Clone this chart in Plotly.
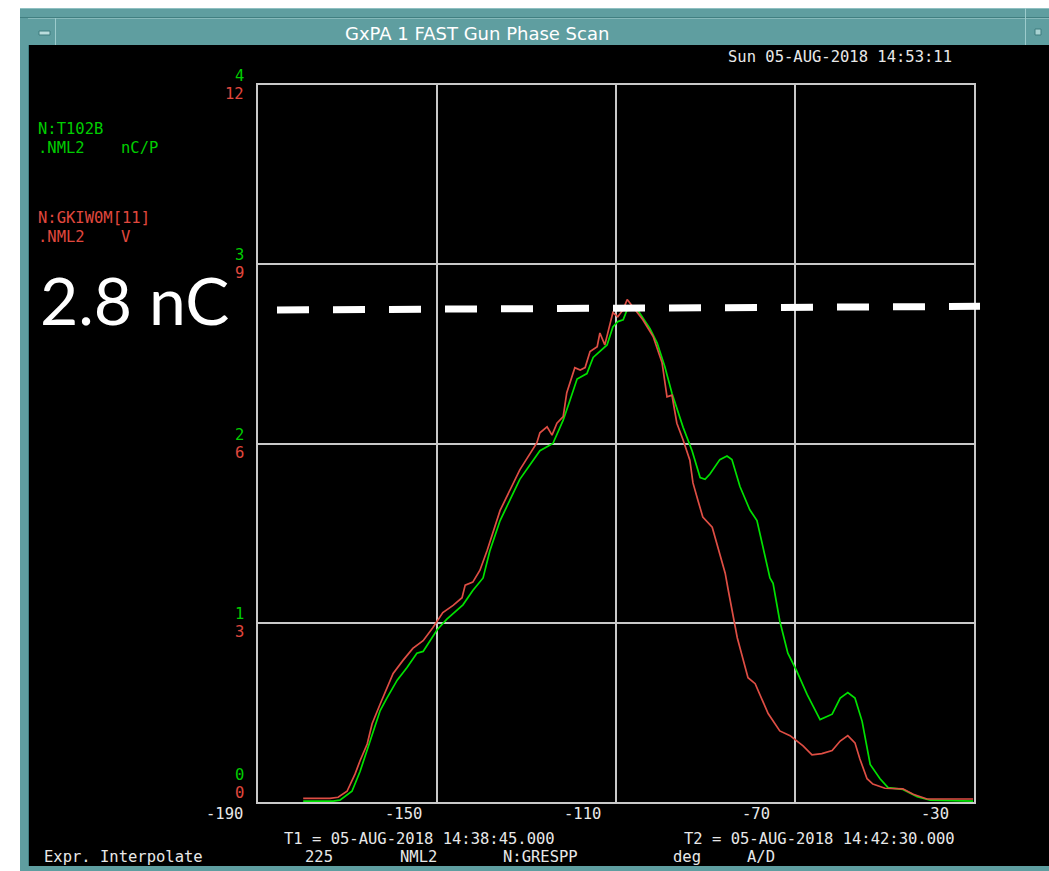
import plotly.graph_objects as go

# ---------------- data ----------------
# Green trace: N:T102B  (.NML2, nC/P)  vs gun phase (deg)
phase_green = [-179.9, -173.2, -171.7, -169.0, -167.2, -165.6, -164.3, -162.7, -161.2,
               -158.9, -156.7, -154.5, -153.1, -150.0, -147.8, -144.2, -142.0, -139.7,
               -138.2, -135.9, -131.5, -127.0, -124.1, -121.8, -120.3, -118.7, -116.5,
               -115.1, -112.0, -110.7, -109.6, -108.4, -107.3, -105.3, -102.4, -100.8,
               -99.1, -97.5, -95.0, -93.0, -91.2, -90.1, -89.0, -86.8, -85.2, -84.1,
               -82.3, -80.1, -78.5, -77.2, -75.6, -74.9, -73.4, -71.6, -69.6, -67.3,
               -64.4, -61.7, -59.9, -58.2, -56.6, -55.0, -53.2, -51.0, -49.2, -45.9,
               -42.7, -39.8, -30.2]
charge_green = [0.005, 0.005, 0.01, 0.06, 0.17, 0.29, 0.40, 0.51, 0.58,
                0.68, 0.75, 0.83, 0.84, 0.96, 1.02, 1.10, 1.18, 1.25,
                1.40, 1.57, 1.80, 1.96, 2.00, 2.13, 2.24, 2.36, 2.39,
                2.48, 2.55, 2.65, 2.68, 2.69, 2.76, 2.75, 2.64, 2.56,
                2.43, 2.28, 2.09, 1.96, 1.81, 1.80, 1.83, 1.91, 1.93, 1.91,
                1.76, 1.63, 1.57, 1.42, 1.25, 1.22, 1.01, 0.83, 0.73, 0.60,
                0.46, 0.49, 0.58, 0.61, 0.58, 0.45, 0.21, 0.13, 0.08, 0.07,
                0.03, 0.01, 0.005]

# Red trace: N:GKIW0M[11]  (.NML2, V)  vs gun phase (deg)
phase_red = [-179.9, -173.9, -172.1, -170.1, -168.3, -167.2, -165.6, -164.5, -162.7,
             -161.2, -159.8, -157.6, -155.4, -153.1, -150.9, -148.7, -146.4, -144.4,
             -143.7, -142.0, -140.4, -138.8, -135.9, -131.5, -127.7, -127.0, -125.4,
             -124.3, -123.2, -121.8, -121.0, -119.2, -118.0, -116.9, -115.8, -114.2,
             -113.6, -112.5, -111.3, -110.7, -109.6, -108.4, -107.5, -106.2, -104.0,
             -101.7, -99.7, -98.6, -97.5, -96.4, -95.0, -93.5, -92.8, -91.7, -90.6,
             -88.5, -87.2, -85.6, -84.9, -82.9, -80.5, -78.9, -76.0, -73.4, -71.1,
             -68.2, -66.2, -64.0, -61.7, -59.9, -58.2, -56.6, -55.5, -53.9, -52.6,
             -49.9, -45.9, -43.6, -40.5, -30.2]
volt_red = [0.06, 0.06, 0.08, 0.18, 0.47, 0.69, 0.97, 1.31, 1.64,
            1.90, 2.15, 2.37, 2.57, 2.70, 2.92, 3.17, 3.29, 3.42,
            3.63, 3.68, 3.88, 4.21, 4.88, 5.56, 6.01, 6.18, 6.28,
            6.14, 6.34, 6.45, 6.85, 7.27, 7.23, 7.27, 7.54, 7.62,
            7.85, 7.65, 8.02, 8.19, 8.12, 8.24, 8.41, 8.29, 8.07,
            7.79, 7.35, 6.78, 6.81, 6.34, 6.06, 5.72, 5.34, 5.05, 4.77,
            4.60, 4.26, 3.83, 3.54, 2.75, 2.08, 1.98, 1.48, 1.19, 1.11,
            0.94, 0.79, 0.81, 0.86, 1.02, 1.11, 0.99, 0.72, 0.39, 0.30,
            0.23, 0.22, 0.13, 0.05, 0.05]

x_ticks = [-190, -150, -110, -70, -30]
green_ticks = [0, 1, 2, 3, 4]
red_ticks = [0, 3, 6, 9, 12]
ref_level = [2.745, 2.765]   # dashed marker ends (nC)
ref_label = "2.8 nC"

title_text = "GxPA 1 FAST Gun Phase Scan"
stamp_text = "Sun 05-AUG-2018 14:53:11"
t1_text = "T1 = 05-AUG-2018 14:38:45.000"
t2_text = "T2 = 05-AUG-2018 14:42:30.000"

# ---------------- style ----------------
GREEN = "rgb(0,225,0)"
RED = "rgb(222,78,68)"
GREEN_TXT = "rgb(0,205,0)"
RED_TXT = "rgb(225,72,62)"
GRID = "#c9c9c9"
TEAL = "#5f9ea0"
WHITE_TXT = "#e8e8e8"
MONO = "DejaVu Sans Mono"
FS = 15.5
PITCH = 10.9   # character pitch of the console font in the reference

W, H = 1049, 871
L, R, T, B = 258, 974, 85, 802


def px_x(p):
    return (p - L) / (R - L)


def px_y(p):
    return (B - p) / (B - T)


fig = go.Figure()
fig.add_trace(go.Scatter(x=phase_red, y=volt_red, yaxis="y2", mode="lines",
                         line=dict(color=RED, width=1.7), showlegend=False,
                         hoverinfo="skip"))
fig.add_trace(go.Scatter(x=phase_green, y=charge_green, mode="lines",
                         line=dict(color=GREEN, width=1.7), showlegend=False,
                         hoverinfo="skip"))

axis_common = dict(showgrid=True, gridcolor=GRID, gridwidth=2, showline=True,
                   linecolor=GRID, linewidth=2, mirror=True, zeroline=False,
                   showticklabels=False, ticks="")

ann = []
# y tick labels (green upper, red lower), right edge near x=245
for v in green_ticks:
    s = str(v)
    ys = 27 if v == 0 else 9
    ann.append(dict(x=0, xref="paper", y=v, yref="y", text=s, showarrow=False,
                    xanchor="center", yanchor="middle",
                    xshift=(245 - L) - len(s) * PITCH / 2, yshift=ys, borderpad=0,
                    font=dict(family=MONO, size=FS, color=GREEN_TXT)))
for v in red_ticks:
    s = str(v)
    ys = 9 if v == 0 else -9
    ann.append(dict(x=0, xref="paper", y=v, yref="y2", text=s, showarrow=False,
                    xanchor="center", yanchor="middle",
                    xshift=(245 - L) - len(s) * PITCH / 2, yshift=ys, borderpad=0,
                    font=dict(family=MONO, size=FS, color=RED_TXT)))
# x tick labels: left edge 55 px left of each grid line
for v in x_ticks:
    s = str(v)
    ann.append(dict(x=v, xref="x", y=0, yref="paper", text=s, showarrow=False,
                    xanchor="center", yanchor="middle",
                    xshift=-55 + len(s) * PITCH / 2, yshift=-12, borderpad=0,
                    font=dict(family=MONO, size=FS, color=WHITE_TXT)))


def txt(xl, yp, s, color=WHITE_TXT, pitch=PITCH, anchor="center"):
    """Place text whose reference left edge is xl (pixels)."""
    if anchor == "center":
        xp = xl + len(s) * pitch / 2
    else:
        xp = xl
    ann.append(dict(x=px_x(xp), xref="paper", y=px_y(yp), yref="paper", text=s,
                    showarrow=False, xanchor=anchor, yanchor="middle", borderpad=0,
                    font=dict(family=MONO, size=FS, color=color)))


# channel labels
txt(37, 129, "N:T102B", GREEN_TXT, anchor="left")
txt(37, 148, ".NML2", GREEN_TXT, anchor="left")
txt(120, 148, "nC/P", GREEN_TXT, anchor="left")
txt(37, 218, "N:GKIW0M[11]", RED_TXT, anchor="left")
txt(37, 237, ".NML2", RED_TXT, anchor="left")
txt(120, 237, "V", RED_TXT, anchor="left")
# time stamp
txt(708, 57, stamp_text, pitch=11.04)
# footer
txt(258, 839, t1_text, pitch=11.17)
txt(657, 839, t2_text, pitch=11.2)
txt(30, 857, "Expr. Interpolate", pitch=11.0)
txt(303, 857, "225")
txt(397, 857, "NML2")
txt(497, 857, "N:GRESPP")
txt(671, 857, "deg")
txt(745, 857, "A/D")

# title bar
ann.append(dict(x=px_x(477), xref="paper", y=px_y(33), yref="paper", text=title_text,
                showarrow=False, xanchor="center", yanchor="middle",
                font=dict(family="DejaVu Sans", size=18, color="white")))
# big label
ann.append(dict(x=px_x(38), xref="paper", y=px_y(299.5), yref="paper", text=ref_label,
                showarrow=False, xanchor="left", yanchor="middle",
                font=dict(family="Lato", size=66, color="white")))

shapes = []


def rect(x0, y0, x1, y1, color, ln=None):
    shapes.append(dict(type="rect", xref="paper", yref="paper",
                       x0=px_x(x0), x1=px_x(x1), y0=px_y(y0), y1=px_y(y1),
                       fillcolor=color, line=dict(width=0) if ln is None else ln,
                       layer="above"))


def hline(x0, x1, y, color, w=1):
    shapes.append(dict(type="line", xref="paper", yref="paper", x0=px_x(x0), x1=px_x(x1),
                       y0=px_y(y), y1=px_y(y), line=dict(color=color, width=w)))


def vline(x, y0, y1, color, w=1):
    shapes.append(dict(type="line", xref="paper", yref="paper", x0=px_x(x), x1=px_x(x),
                       y0=px_y(y0), y1=px_y(y1), line=dict(color=color, width=w)))


# window frame
rect(0, 0, W, 8, "white")
rect(0, 0, 20, H, "white")
rect(20, 8, W, 45, TEAL)
rect(20, 8, 28, H, TEAL)
rect(20, 866, W, H, TEAL)
hline(20, W, 8.5, "#8fc0c1")
hline(20, W, 17.5, "#417f81")
hline(28, W, 18.5, "#86b9ba")
vline(55.5, 18, 45, "#9ccbcc")
vline(1025.5, 8, 45, "#9ccbcc")
vline(28.5, 45, 866, "#417f81")
rect(39, 31, 50, 35, "#b9dcdc", ln=dict(color="#3e7c7e", width=1))
rect(1035, 29, 1041, 35, "#a9d2d2", ln=dict(color="#3e7c7e", width=1))

# dashed 2.8 nC marker, on the charge axis
shapes.append(dict(type="line", xref="paper", yref="y",
                   x0=px_x(277), x1=px_x(980), y0=ref_level[0], y1=ref_level[1],
                   line=dict(color="white", width=7, dash="32px,24px"), layer="above"))

fig.update_layout(
    width=W, height=H,
    margin=dict(l=L, r=W - R, t=T, b=H - B, pad=0),
    paper_bgcolor="black", plot_bgcolor="black",
    xaxis=dict(range=[-190, -30], tickvals=x_ticks[1:-1], **axis_common),
    yaxis=dict(range=[0, 4], tickvals=green_ticks[1:-1], **axis_common),
    yaxis2=dict(range=[0, 12], overlaying="y", visible=False),
    annotations=ann, shapes=shapes, showlegend=False,
)

fig.write_html("out.html")
